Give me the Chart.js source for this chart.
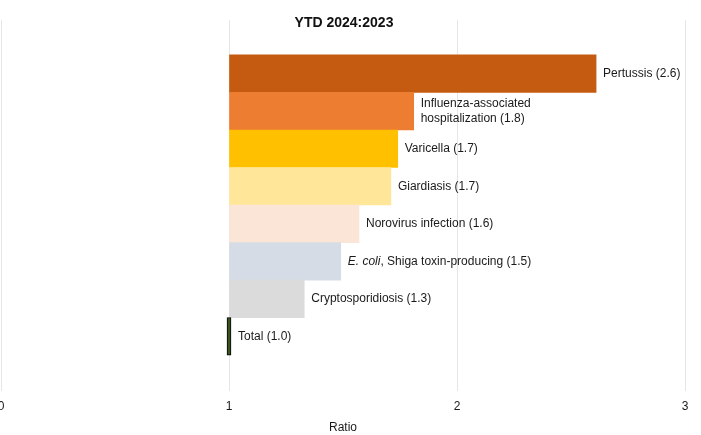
<!DOCTYPE html>
<html><head><meta charset="utf-8">
<script src="https://cdn.jsdelivr.net/npm/chart.js@4/dist/chart.umd.min.js"></script>
<style>html,body{margin:0;padding:0;background:#fff}canvas{display:block}</style>
</head><body><canvas id="c" width="701" height="435"></canvas>
<script>
// ---- data ----
const categories = ['Pertussis', 'Influenza-associated\nhospitalization', 'Varicella', 'Giardiasis', 'Norovirus infection', '*E. coli*, Shiga toxin-producing', 'Cryptosporidiosis', 'Total'];
const ratios = [2.61, 1.81, 1.74, 1.71, 1.57, 1.49, 1.33, 1.0];
const colors = ['#C55A11', '#ED7D31', '#FFC000', '#FFE699', '#FBE5D6', '#D6DCE5', '#DBDBDB', '#375623'];
const xTicks = [0, 1, 2, 3];
const chartTitle = 'YTD 2024:2023';
const axisTitle = 'Ratio';
const baseRatio = 1;

const FONT = "'Liberation Sans', Arial, sans-serif";
const TEXT = '#1a1a1a';

const titlePlugin = {
  id: 'insideTitle',
  afterDraw(chart) {
    const ctx = chart.ctx, a = chart.chartArea;
    ctx.save();
    ctx.font = 'bold 14px ' + FONT;
    ctx.fillStyle = '#111';
    ctx.textAlign = 'center';
    ctx.textBaseline = 'middle';
    ctx.fillText(chartTitle, (a.left + a.right) / 2 + 1, a.top + 3);
    ctx.restore();
  }
};

const barLabelPlugin = {
  id: 'barLabels',
  afterDatasetsDraw(chart) {
    const ctx = chart.ctx;
    const meta = chart.getDatasetMeta(0);
    ctx.save();
    ctx.fillStyle = TEXT;
    ctx.textBaseline = 'middle';
    ctx.textAlign = 'left';
    meta.data.forEach((bar, i) => {
      const text = categories[i] + ' (' + ratios[i].toFixed(1) + ')';
      const lines = text.split('\n');
      const lh = 15;
      const x0 = Math.max(bar.x, bar.base) + 7;
      let y = bar.y - (lines.length - 1) * lh / 2;
      lines.forEach(line => {
        const segs = line.split('*');
        let x = x0;
        segs.forEach((s, k) => {
          if (!s) return;
          ctx.font = (k % 2 === 1 ? 'italic ' : '') + '12px ' + FONT;
          ctx.fillText(s, x, y);
          x += ctx.measureText(s).width;
        });
        y += lh;
      });
    });
    ctx.restore();
  }
};

new Chart(document.getElementById('c'), {
  type: 'bar',
  data: {
    datasets: [{
      data: ratios.map((v, i) => ({ x: v, y: i })),
      base: baseRatio,
      backgroundColor: colors,
      borderColor: '#000',
      borderWidth: ratios.map((v, i) => i === ratios.length - 1 ? 1 : 0),
      borderSkipped: false,
      minBarLength: 4,
      barPercentage: 1,
      categoryPercentage: 1
    }]
  },
  options: {
    indexAxis: 'y',
    responsive: false,
    animation: false,
    devicePixelRatio: 1,
    layout: { padding: { top: 20, left: 1, right: 16, bottom: 0 } },
    plugins: { legend: { display: false }, tooltip: { enabled: false }, title: { display: false } },
    scales: {
      y: {
        type: 'linear', reverse: true, min: -1.43, max: 8.46, offset: false, display: false,
        afterBuildTicks: s => { s.ticks = categories.map((c, i) => ({ value: i })); }
      },
      x: {
        type: 'linear', min: 0, max: 3,
        afterBuildTicks: s => { s.ticks = xTicks.map(v => ({ value: v })); },
        afterFit: s => { s.paddingLeft = 0; s.paddingRight = 0; },
        grid: { color: '#e6e6e6', lineWidth: 1, drawTicks: false },
        border: { display: false },
        ticks: { padding: 8, color: TEXT, font: { family: FONT, size: 12 } },
        title: { display: true, text: axisTitle, color: TEXT, font: { family: FONT, size: 12 }, padding: { top: -1, bottom: 0 } }
      }
    }
  },
  plugins: [titlePlugin, barLabelPlugin]
});
</script>
</body></html>
